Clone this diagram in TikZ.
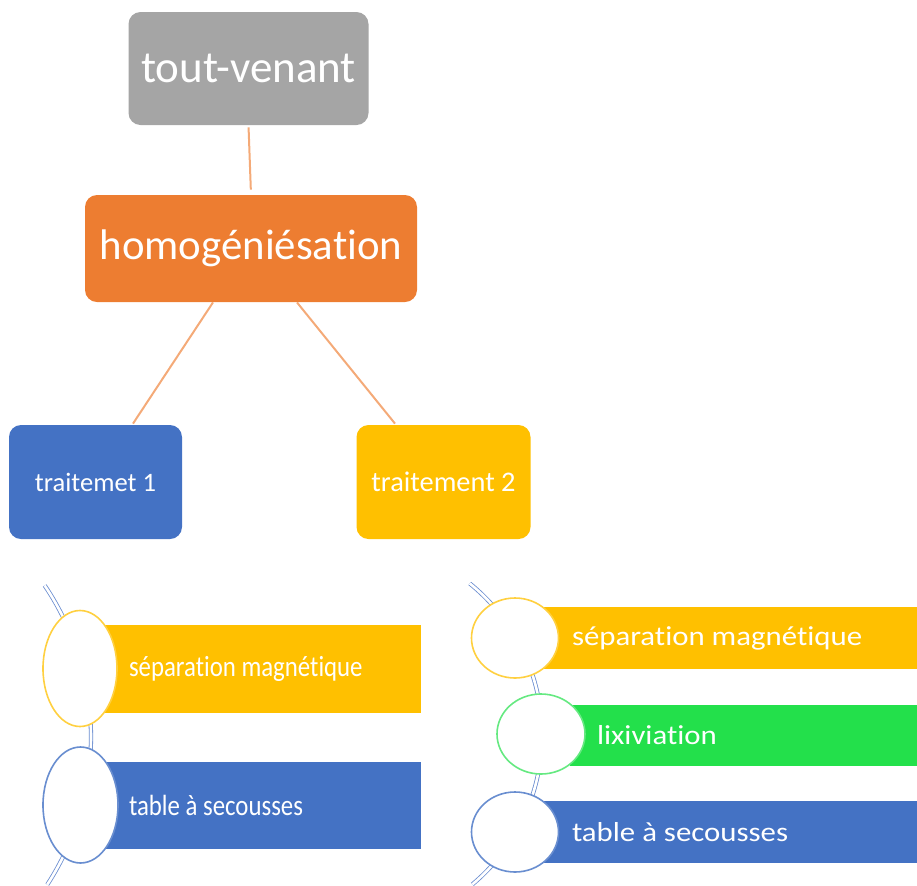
\documentclass[tikz,border=0pt]{standalone}
\usepackage{fontspec}
\usepackage{graphicx}
\setmainfont{Carlito}[RawFeature={-liga;-clig;-calt;-dlig}]
\usetikzlibrary{positioning,calc,shapes.geometric}

\definecolor{grayc}{RGB}{165,165,165}
\definecolor{orangec}{RGB}{237,125,49}
\definecolor{linkc}{RGB}{244,170,120}
\definecolor{bluec}{RGB}{68,114,196}
\definecolor{goldc}{RGB}{255,192,0}
\definecolor{greenc}{RGB}{35,224,75}
\definecolor{arcc}{RGB}{105,140,208}

\tikzset{
  topbox/.style={rounded corners=6pt, text=white, inner sep=0pt},
  link/.style={draw=linkc, line width=1pt},
  band/.style={inner sep=0pt},
  ring/.style={ellipse, draw, fill=white, line width=0.8pt, inner sep=0pt},
  spine/.style={draw=arcc, line width=0.4pt, double=white, double distance=1.3pt},
  narrowlbl/.style={anchor=west, text=white, inner sep=0pt,
    font=\fontsize{14.6}{17}\selectfont},
  widelbl/.style={anchor=west, text=white, inner sep=0pt,
    font=\fontsize{13.7}{16}\selectfont}
}

\begin{document}
\begin{tikzpicture}[x=0.5pt, y=-0.5pt]
  \useasboundingbox (0,0) rectangle (917,885);

  % upper tree
  \node (tout) at (248.5,68.5) [topbox, fill=grayc, minimum width=120pt, minimum height=56.5pt,
    font=\fontsize{22.5}{26}\selectfont] {tout-venant};
  \node (homog) at (251,248.5) [topbox, fill=orangec, minimum width=166pt, minimum height=53.5pt,
    font=\fontsize{21.4}{25}\selectfont] {homogéniésation};
  \node (trait1) at (95.5,482) [topbox, fill=bluec, minimum width=86.5pt, minimum height=57pt,
    font=\fontsize{13.3}{16}\selectfont] {traitemet 1};
  \node (trait2) at (443.5,482) [topbox, fill=goldc, minimum width=87pt, minimum height=57pt,
    font=\fontsize{14.2}{17}\selectfont] {traitement 2};

  \draw[link, shorten <=1pt, shorten >=2.5pt] (tout.south) -- (homog.north);
  \draw[link] ($(homog.south)+(-38,0)$) -- ($(trait1.north)+(37.5,-1)$);
  \draw[link] ($(homog.south)+(46,0)$) -- ($(trait2.north)+(-48.5,-1)$);

  % left list
  \draw[spine] (-180,737) ++(-34:271) arc[start angle=-34, end angle=33, radius=271];
  \node (sepL) at (262,669) [band, fill=goldc, minimum width=159pt, minimum height=44pt] {};
  \node (tabL) at (262,805.5) [band, fill=bluec, minimum width=159pt, minimum height=43.5pt] {};
  \node (ringL1) at (80,668.5) [ring, draw=goldc!75, minimum width=37pt, minimum height=58pt] {};
  \node (ringL2) at (80.5,805) [ring, draw=bluec!80, minimum width=37.5pt, minimum height=58pt] {};
  \node[narrowlbl, right=13pt] at (sepL.west) {\scalebox{0.85}[1]{séparation magnétique}};
  \node[narrowlbl, right=13pt] at (tabL.west) {\scalebox{0.85}[1]{table à secousses}};

  % right list
  \draw[spine] (347,735) ++(-51:195) arc[start angle=-51, end angle=50, radius=195];
  \node (sepR) at (730,638) [band, fill=goldc, minimum width=187pt, minimum height=31pt] {};
  \node (lixR) at (743.5,735.5) [band, fill=greenc, minimum width=173.5pt, minimum height=30.5pt] {};
  \node (tabR) at (730,832) [band, fill=bluec, minimum width=187pt, minimum height=31pt] {};
  \node (ringR1) at (515,638) [ring, draw=goldc!75, minimum width=43.5pt, minimum height=40pt] {};
  \node (ringR2) at (541,734) [ring, draw=greenc!70, minimum width=44pt, minimum height=40pt] {};
  \node (ringR3) at (515,832) [ring, draw=bluec!80, minimum width=43.5pt, minimum height=40pt] {};
  \node[widelbl, right=14.5pt] at (sepR.west) {\scalebox{1.125}[1]{séparation magnétique}};
  \node[widelbl, right=13.5pt] at (lixR.west) {\scalebox{1.125}[1]{lixiviation}};
  \node[widelbl, right=14.5pt] at (tabR.west) {\scalebox{1.125}[1]{table à secousses}};
\end{tikzpicture}
\end{document}
